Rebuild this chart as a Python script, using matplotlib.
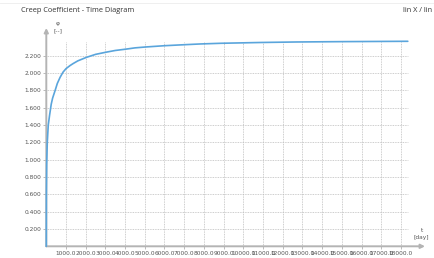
import matplotlib
matplotlib.use('Agg')
import matplotlib.pyplot as plt

# ---- data ----
t_days = [0, 5, 20, 50, 100, 165, 250, 320, 450, 560, 700, 850, 1000, 1200, 1370,
          1600, 2030, 2500, 3030, 3500, 4030, 4500, 5030, 6000, 6870, 7800, 8870,
          10850, 12700, 15000, 18350]
phi = [0.0, 0.60, 0.95, 1.20, 1.40, 1.51, 1.64, 1.71, 1.80, 1.88, 1.95, 2.01, 2.05,
       2.085, 2.11, 2.14, 2.18, 2.215, 2.24, 2.26, 2.275, 2.29, 2.30, 2.315, 2.325,
       2.335, 2.343, 2.352, 2.358, 2.362, 2.366]
x_ticks = [1000 * i for i in range(1, 19)]
x_tick_labels = [f"{v:.1f}" for v in x_ticks]
y_ticks = [0.2, 0.4, 0.6, 0.8, 1.0, 1.2, 1.4, 1.6, 1.8, 2.0, 2.2]
y_tick_labels = [f"{v:.3f}" for v in y_ticks]
title = "Creep Coefficient - Time Diagram"
scale_label = "lin X / lin"

W, H = 435, 258
fig = plt.figure(figsize=(W / 100, H / 100), dpi=100)
fig.patch.set_facecolor('white')

def fx(px):
    return px / W

def fy(py):
    return 1 - py / H

x0, x1 = 46.3, 425.0
y0, y1 = 246.3, 28.0
ax = fig.add_axes([fx(x0), fy(y0), fx(x1) - fx(x0), fy(y1) - fy(y0)])
ax.set_xlim(0, (x1 - x0) / 19.7 * 1000)
ax.set_ylim(0, (y0 - y1) / 86.65)
for s in ax.spines.values():
    s.set_visible(False)
ax.set_facecolor('white')

ax.set_xticks(x_ticks)
ax.set_xticklabels(x_tick_labels)
ax.set_yticks(y_ticks)
ax.set_yticklabels(y_tick_labels)
ax.tick_params(axis='both', length=2.2, width=0.6, color='#b0b0b0',
               labelsize=4.2, labelcolor='#555555', pad=1.5)

grid_top = 2.36
t_end = max(t_days)
ax.vlines(x_ticks, 0, grid_top, colors='#bdbdbd', linestyles=(0, (1, 1)), lw=0.6, zorder=1)
ax.hlines(y_ticks, 0, t_end, colors='#bdbdbd', linestyles=(0, (1, 1)), lw=0.6, zorder=1)

arrow_kw = dict(arrowstyle='-|>', color='#b4b4b4', lw=1.4, mutation_scale=6,
                shrinkA=0, shrinkB=0)
ax.annotate('', xy=(1, 0), xytext=(0, 0), xycoords='axes fraction',
            textcoords='axes fraction', arrowprops=arrow_kw, annotation_clip=False, zorder=2)
ax.annotate('', xy=(0, 1), xytext=(0, 0), xycoords='axes fraction',
            textcoords='axes fraction', arrowprops=arrow_kw, annotation_clip=False, zorder=2)

ax.plot(t_days, phi, color='#5aa5dc', lw=1.2, clip_on=False, zorder=5,
        solid_capstyle='round', solid_joinstyle='round')

# texts
fig.text(fx(21), fy(11), title, fontsize=5.3, color='#333333',
         family='Open Sans', va='center', ha='left')
fig.text(fx(432), fy(11), scale_label, fontsize=5.3, color='#333333',
         family='Open Sans', va='center', ha='right')
fig.text(fx(57.7), fy(23), 'φ', fontsize=4.2, color='#555555', va='center', ha='center')
fig.text(fx(57.7), fy(30.5), '[--]', fontsize=4.2, color='#555555', va='center', ha='center')
fig.text(fx(421.7), fy(230), 't', fontsize=4.2, color='#555555', va='center', ha='center')
fig.text(fx(421.7), fy(237), '[day]', fontsize=4.2, color='#555555', va='center', ha='center')

# faint top border
fig.add_artist(plt.Line2D([0, 1], [fy(3), fy(3)], color='#ececec', lw=0.6))

fig.savefig('out.png', dpi=100)
